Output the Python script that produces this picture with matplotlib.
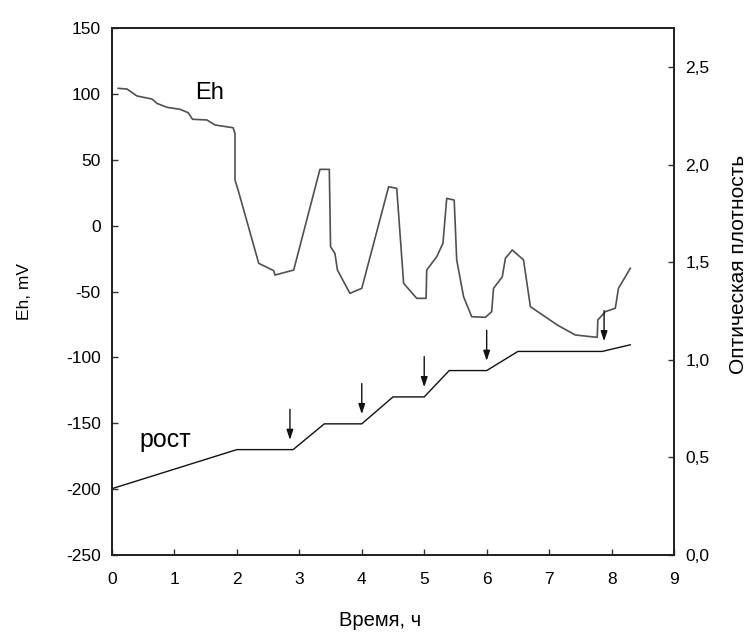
import numpy as np
import matplotlib
matplotlib.use("Agg")
import matplotlib.pyplot as plt

plt.rcParams['font.family'] = ['Liberation Sans', 'DejaVu Sans']
plt.rcParams['axes.unicode_minus'] = False

# Eh, mV versus time, h
eh_time = [0.10, 0.24, 0.40, 0.64, 0.72, 0.88, 1.09, 1.22, 1.29, 1.52, 1.65, 1.94,
           1.97, 1.97, 2.02, 2.35, 2.59, 2.61, 2.91, 3.33, 3.48, 3.50, 3.57, 3.61,
           3.81, 4.00, 4.43, 4.56, 4.67, 4.88, 5.03, 5.04, 5.20, 5.30, 5.36, 5.48,
           5.52, 5.63, 5.76, 5.98, 6.08, 6.11, 6.25, 6.30, 6.41, 6.59, 6.70, 7.13,
           7.42, 7.77, 7.78, 7.90, 8.06, 8.11, 8.30]
eh_value = [104.2, 103.7, 98.4, 96.1, 92.8, 89.8, 88.3, 85.7, 80.7, 80.2, 76.4, 74.3,
            70.0, 34.6, 27.0, -28.6, -34.2, -37.5, -33.7, 42.7, 42.7, -16.0, -21.0, -33.7,
            -51.4, -47.6, 29.5, 28.3, -43.8, -55.2, -55.2, -33.7, -23.6, -13.4, 20.7, 19.4,
            -26.0, -53.9, -69.1, -69.6, -65.3, -47.6, -38.8, -24.8, -18.5, -26.0, -61.5, -75.4,
            -83.0, -84.8, -71.6, -65.3, -62.7, -47.6, -32.4]

# optical density (growth)
od_time = [0.0, 2.0, 2.9, 3.4, 4.0, 4.5, 5.0, 5.4, 6.0, 6.5, 7.85, 8.3]
od_value = [0.34, 0.54, 0.54, 0.672, 0.672, 0.81, 0.81, 0.945, 0.945, 1.043, 1.043, 1.077]

# moments of additions, marked with arrows
arrow_time = [2.85, 4.0, 5.0, 6.0, 7.88]

left_ticks = [-250, -200, -150, -100, -50, 0, 50, 100, 150]
right_ticks = [0.0, 0.5, 1.0, 1.5, 2.0, 2.5]
right_labels = ['0,0', '0,5', '1,0', '1,5', '2,0', '2,5']
x_ticks = list(range(10))

fig = plt.figure(figsize=(7.51, 6.32), dpi=100)
ax = fig.add_axes([0.1491, 0.1218, 0.7484, 0.8339])
ax2 = ax.twinx()

ax.plot(eh_time, eh_value, color='#505050', lw=1.2)
ax2.plot(od_time, od_value, color='#111111', lw=1.0)

for t in arrow_time:
    y = np.interp(t, od_time, od_value)
    ax2.annotate('', xy=(t, y), xytext=(0, 29), textcoords='offset points',
                 arrowprops=dict(arrowstyle='-|>,head_length=0.6,head_width=0.2',
                                 color='#111111', lw=1.0, shrinkA=0, shrinkB=7))

ax.text(1.57, 96, 'Eh', fontsize=17, ha='center', va='baseline')
ax.text(0.85, -168, 'рост', fontsize=18, ha='center', va='baseline')

ax.set_xlim(0, 9)
ax.set_ylim(-250, 150)
ax2.set_ylim(0, 2.7)
ax.set_xticks(x_ticks)
ax.set_yticks(left_ticks)
ax2.set_yticks(right_ticks)
ax2.set_yticklabels(right_labels)

for a in (ax, ax2):
    a.tick_params(direction='in', length=4, width=1, labelsize=12.5, color='#333333')
    for s in a.spines.values():
        s.set_linewidth(1.3)
        s.set_color('#222222')
ax.tick_params(axis='y', pad=8)
ax.tick_params(axis='x', pad=12)
ax2.tick_params(axis='y', pad=8)

ax.set_xlabel('Время, ч', fontsize=14.5)
ax.xaxis.set_label_coords(0.477, -0.106)
ax.set_ylabel('Eh, mV', fontsize=12.5)
ax.yaxis.set_label_coords(-0.142, 0.5)
ax2.set_ylabel('Оптическая плотность', fontsize=15)
ax2.yaxis.set_label_coords(1.097, 0.552)

fig.savefig('out.png', dpi=100)
